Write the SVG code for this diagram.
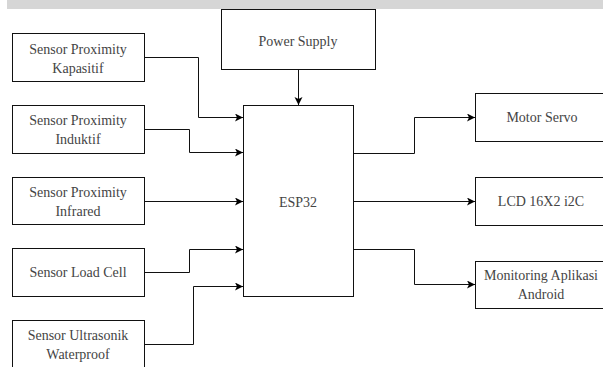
<svg xmlns="http://www.w3.org/2000/svg" width="603" height="367" viewBox="0 0 603 367">
<defs>
<style>
.box{fill:#fff;stroke:#111;stroke-width:1}
.t{font-family:'Liberation Serif','Times New Roman',serif;font-size:14px;fill:#444;text-anchor:middle}
.c{fill:none;stroke:#111;stroke-width:1}
</style>
<marker id="ah" markerUnits="userSpaceOnUse" markerWidth="10" markerHeight="10" refX="8" refY="4" orient="auto">
<path d="M0,0 L8,4 L0,8 L2,4 Z" fill="#000"/>
</marker>
</defs>
<rect x="7" y="0" width="596" height="9" fill="#d6d6d6"/>
<g id="power"><rect class="box" x="221.5" y="9.5" width="154" height="60"/><text class="t" x="298" y="46">Power Supply</text></g>
<g id="esp32"><rect class="box" x="243.5" y="105.5" width="110" height="191"/><text class="t" x="298" y="207">ESP32</text></g>
<g id="kapasitif"><rect class="box" x="12.5" y="33.5" width="132" height="48"/><text class="t" x="78" y="54">Sensor Proximity</text><text class="t" x="78" y="73">Kapasitif</text></g>
<g id="induktif"><rect class="box" x="12.5" y="105.5" width="132" height="48"/><text class="t" x="78" y="125">Sensor Proximity</text><text class="t" x="78" y="144">Induktif</text></g>
<g id="infrared"><rect class="box" x="12.5" y="177.5" width="132" height="47"/><text class="t" x="78" y="197">Sensor Proximity</text><text class="t" x="78" y="216">Infrared</text></g>
<g id="loadcell"><rect class="box" x="12.5" y="248.5" width="132" height="48"/><text class="t" x="78" y="277">Sensor Load Cell</text></g>
<g id="ultrasonik"><rect class="box" x="12.5" y="320.5" width="132" height="48"/><text class="t" x="78" y="340">Sensor Ultrasonik</text><text class="t" x="78" y="359">Waterproof</text></g>
<g id="servo"><rect class="box" x="475.5" y="93.5" width="132" height="48"/><text class="t" x="542" y="122">Motor Servo</text></g>
<g id="lcd"><rect class="box" x="475.5" y="177.5" width="132" height="48"/><text class="t" x="541" y="206">LCD 16X2 i2C</text></g>
<g id="android"><rect class="box" x="475.5" y="261.5" width="132" height="47"/><text class="t" x="541" y="280">Monitoring Aplikasi</text><text class="t" x="541" y="299">Android</text></g>
<g id="connectors">
<path class="c" marker-end="url(#ah)" d="M144.5,57.5 H198.5 V117.5 H243"/>
<path class="c" marker-end="url(#ah)" d="M144.5,129.5 H189.5 V152.5 H243"/>
<path class="c" marker-end="url(#ah)" d="M144.5,201.5 H243"/>
<path class="c" marker-end="url(#ah)" d="M144.5,272.5 H189.5 V249.5 H243"/>
<path class="c" marker-end="url(#ah)" d="M144.5,344.5 H193.5 V286.5 H243"/>
<path class="c" marker-end="url(#ah)" d="M298.5,69.5 V105"/>
<path class="c" marker-end="url(#ah)" d="M353.5,153.5 H414.5 V117.5 H475"/>
<path class="c" marker-end="url(#ah)" d="M353.5,201.5 H475"/>
<path class="c" marker-end="url(#ah)" d="M353.5,249.5 H414.5 V284.5 H475"/>
</g>
</svg>
